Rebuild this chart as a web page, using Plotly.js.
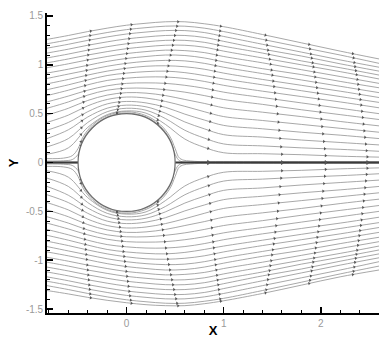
<!DOCTYPE html>
<html>
<head>
<meta charset="utf-8">
<script src="https://cdn.plot.ly/plotly-3.0.1.min.js"></script>
<style>html,body{margin:0;padding:0;background:#fff;}#chart{width:379px;height:338px;}</style>
</head>
<body>
<div id="chart"></div>
<script>
// ---- data ----
const xCols = [-0.82, -0.6, -0.4, -0.2, 0, 0.2, 0.4, 0.6, 0.8, 1.0, 1.4, 1.8, 2.2, 2.6];

const upperLines = [
  [1.26,1.30,1.34,1.375,1.405,1.425,1.44,1.44,1.42,1.39,1.31,1.225,1.14,1.06],
  [1.215,1.255,1.295,1.33,1.36,1.38,1.395,1.395,1.375,1.34,1.26,1.18,1.10,1.015],
  [1.17,1.21,1.25,1.285,1.315,1.335,1.35,1.35,1.33,1.29,1.21,1.13,1.05,0.975],
  [1.12,1.16,1.20,1.235,1.265,1.285,1.30,1.30,1.28,1.24,1.16,1.09,1.01,0.935],
  [1.07,1.11,1.15,1.185,1.215,1.235,1.25,1.25,1.23,1.19,1.12,1.04,0.97,0.895],
  [1.02,1.06,1.10,1.135,1.165,1.185,1.20,1.20,1.18,1.14,1.07,1.00,0.93,0.855],
  [0.97,1.01,1.05,1.085,1.115,1.135,1.15,1.145,1.125,1.085,1.02,0.95,0.88,0.81],
  [0.915,0.955,0.995,1.035,1.065,1.085,1.10,1.095,1.07,1.03,0.96,0.90,0.83,0.765],
  [0.86,0.905,0.945,0.985,1.015,1.035,1.045,1.04,1.015,0.975,0.91,0.845,0.78,0.715],
  [0.805,0.85,0.895,0.935,0.965,0.985,0.99,0.98,0.955,0.915,0.85,0.79,0.73,0.665],
  [0.745,0.795,0.845,0.89,0.915,0.93,0.935,0.92,0.89,0.855,0.795,0.735,0.675,0.615],
  [0.685,0.74,0.795,0.84,0.863,0.875,0.875,0.86,0.83,0.79,0.73,0.675,0.62,0.56],
  [0.62,0.68,0.74,0.785,0.81,0.815,0.81,0.79,0.76,0.72,0.665,0.61,0.555,0.50],
  [0.555,0.62,0.69,0.74,0.76,0.76,0.745,0.72,0.685,0.645,0.595,0.54,0.49,0.44],
  [0.485,0.555,0.635,0.69,0.715,0.71,0.685,0.645,0.605,0.56,0.515,0.47,0.42,0.375],
  [0.41,0.485,0.58,0.645,0.67,0.66,0.625,0.575,0.52,0.47,0.43,0.39,0.35,0.31],
  [0.33,0.41,0.52,0.60,0.625,0.61,0.565,0.495,0.435,0.38,0.345,0.31,0.28,0.245],
  [0.245,0.335,0.466,0.556,0.587,0.57,0.505,0.415,0.345,0.285,0.26,0.23,0.205,0.18],
  [0.16,0.245,0.41,0.52,0.555,0.535,0.45,0.33,0.25,0.19,0.17,0.15,0.135,0.115],
  [0.085,0.15,0.36,0.49,0.528,0.505,0.39,0.24,0.155,0.10,0.09,0.08,0.065,0.055]
];

const lowerLines = [
  [-1.31,-1.345,-1.38,-1.41,-1.435,-1.455,-1.465,-1.465,-1.445,-1.415,-1.34,-1.255,-1.17,-1.10],
  [-1.26,-1.30,-1.34,-1.375,-1.405,-1.425,-1.44,-1.44,-1.42,-1.39,-1.31,-1.225,-1.14,-1.06],
  [-1.215,-1.255,-1.295,-1.33,-1.36,-1.38,-1.395,-1.395,-1.375,-1.34,-1.26,-1.18,-1.10,-1.015],
  [-1.17,-1.21,-1.25,-1.285,-1.315,-1.335,-1.35,-1.35,-1.33,-1.29,-1.21,-1.13,-1.05,-0.975],
  [-1.12,-1.16,-1.20,-1.235,-1.265,-1.285,-1.30,-1.30,-1.28,-1.24,-1.16,-1.09,-1.01,-0.935],
  [-1.07,-1.11,-1.15,-1.185,-1.215,-1.235,-1.25,-1.25,-1.23,-1.19,-1.12,-1.04,-0.97,-0.895],
  [-1.02,-1.06,-1.10,-1.135,-1.165,-1.185,-1.20,-1.20,-1.18,-1.14,-1.07,-1.00,-0.93,-0.855],
  [-0.97,-1.01,-1.05,-1.085,-1.115,-1.135,-1.15,-1.145,-1.125,-1.085,-1.02,-0.95,-0.88,-0.81],
  [-0.915,-0.955,-0.995,-1.035,-1.065,-1.085,-1.10,-1.095,-1.07,-1.03,-0.96,-0.90,-0.83,-0.765],
  [-0.86,-0.905,-0.945,-0.985,-1.015,-1.035,-1.045,-1.04,-1.015,-0.975,-0.91,-0.845,-0.78,-0.715],
  [-0.805,-0.85,-0.895,-0.935,-0.965,-0.985,-0.99,-0.98,-0.955,-0.915,-0.85,-0.79,-0.73,-0.665],
  [-0.745,-0.795,-0.845,-0.89,-0.915,-0.93,-0.935,-0.92,-0.89,-0.855,-0.795,-0.735,-0.675,-0.615],
  [-0.685,-0.74,-0.795,-0.84,-0.863,-0.875,-0.875,-0.86,-0.83,-0.79,-0.73,-0.675,-0.62,-0.56],
  [-0.62,-0.68,-0.74,-0.785,-0.81,-0.815,-0.81,-0.79,-0.76,-0.72,-0.665,-0.61,-0.555,-0.50],
  [-0.555,-0.62,-0.69,-0.74,-0.76,-0.76,-0.745,-0.72,-0.685,-0.645,-0.595,-0.54,-0.49,-0.44],
  [-0.485,-0.555,-0.635,-0.69,-0.715,-0.71,-0.685,-0.645,-0.605,-0.56,-0.515,-0.47,-0.42,-0.375],
  [-0.41,-0.485,-0.58,-0.645,-0.67,-0.66,-0.625,-0.575,-0.52,-0.47,-0.43,-0.39,-0.35,-0.31],
  [-0.33,-0.41,-0.52,-0.60,-0.625,-0.61,-0.565,-0.495,-0.435,-0.38,-0.345,-0.31,-0.28,-0.245],
  [-0.245,-0.335,-0.466,-0.556,-0.587,-0.57,-0.505,-0.415,-0.345,-0.285,-0.26,-0.23,-0.205,-0.18],
  [-0.16,-0.245,-0.41,-0.52,-0.555,-0.535,-0.45,-0.33,-0.25,-0.19,-0.17,-0.15,-0.135,-0.115],
  [-0.085,-0.15,-0.36,-0.49,-0.528,-0.505,-0.39,-0.24,-0.155,-0.10,-0.09,-0.08,-0.065,-0.055]
];

// streamlines that hug the cylinder and join the wake line
const hugX = [-0.82,-0.65,-0.56,-0.5,-0.45,-0.35,-0.2,0,0.2,0.35,0.45,0.5,0.55,0.7,1.0,1.6,2.6];
const hugLines = [
  [0.04,0.045,0.07,0.143,0.26,0.385,0.48,0.52,0.48,0.385,0.26,0.143,0.04,0.012,0.01,0.009,0.008],
  [0.015,0.018,0.03,0.084,0.233,0.367,0.466,0.507,0.466,0.367,0.233,0.084,0.015,0.005,0.004,0.004,0.004],
  [-0.015,-0.018,-0.03,-0.084,-0.233,-0.367,-0.466,-0.507,-0.466,-0.367,-0.233,-0.084,-0.015,-0.005,-0.004,-0.004,-0.004],
  [-0.04,-0.045,-0.07,-0.143,-0.26,-0.385,-0.48,-0.52,-0.48,-0.385,-0.26,-0.143,-0.04,-0.012,-0.01,-0.009,-0.008]
];

// stagnation line and wake line on the axis
const axisLineX = [-0.82, -0.5, null, 0.5, 2.6];
const axisLineY = [0, 0, null, 0, 0];

const cylinderCenter = [0, 0];
const cylinderRadius = 0.5;

// arrow columns: x of each arrow on the outermost line and on the innermost line
const arrowXOuter = [-0.37, 0.05, 0.53, 0.97, 1.43, 1.88, 2.33];
const arrowXInner = [-0.47, -0.1, 0.32, 0.84, 1.6, 2.05, 2.48];

const xTickVals = [0, 1, 2];
const xTickText = ['0', '1', '2'];
const yTickVals = [-1.5, -1, -0.5, 0, 0.5, 1, 1.5];
const yTickText = ['-1.5', '-1', '-0.5', '0', '0.5', '1', '1.5'];
const xRange = [-0.82, 2.6];
const yRange = [-1.54, 1.53];

// ---- build traces ----
const lineColor = '#929292';
const traces = [];
const allLines = [];
upperLines.forEach((ys, k) => allLines.push({x: xCols, y: ys, f: k / (upperLines.length - 1)}));
lowerLines.forEach((ys, k) => allLines.push({x: xCols, y: ys, f: k / (lowerLines.length - 1)}));
hugLines.forEach(ys => allLines.push({x: hugX, y: ys, f: 1}));

allLines.forEach(l => {
  traces.push({
    type: 'scatter', mode: 'lines', x: l.x, y: l.y,
    line: {color: lineColor, width: 0.8, shape: 'spline', smoothing: 1},
    hoverinfo: 'skip', showlegend: false
  });
});

traces.push({
  type: 'scatter', mode: 'lines', x: axisLineX, y: axisLineY,
  line: {color: '#3a3a3a', width: 2.2}, hoverinfo: 'skip', showlegend: false
});

// arrows: placed on each streamline, oriented along it
const W = 379, H = 338, mL = 47, mR = 0, mT = 13, mB = 25;
const sx = (W - mL - mR) / (xRange[1] - xRange[0]);
const sy = (H - mT - mB) / (yRange[1] - yRange[0]);
const ax = [], ay = [], aang = [];
allLines.forEach(l => {
  arrowXOuter.forEach((xo, j) => {
    const px = xo + l.f * (arrowXInner[j] - xo);
    for (let i = 0; i < l.x.length - 1; i++) {
      if (px >= l.x[i] && px <= l.x[i + 1]) {
        const t = (px - l.x[i]) / (l.x[i + 1] - l.x[i]);
        const yv = l.y[i] + t * (l.y[i + 1] - l.y[i]);
        const slope = (l.y[i + 1] - l.y[i]) / (l.x[i + 1] - l.x[i]);
        ax.push(px); ay.push(yv);
        aang.push(-Math.atan(slope * sy / sx) * 180 / Math.PI);
        break;
      }
    }
  });
});
traces.push({
  type: 'scatter', mode: 'markers', x: ax, y: ay,
  marker: {symbol: 'triangle-right', size: 3, color: '#555', angle: aang, line: {width: 0}},
  hoverinfo: 'skip', showlegend: false
});

const tickFont = {family: 'Liberation Sans, Arial, sans-serif', size: 10, color: '#9a9a9a'};
const layout = {
  width: W, height: H,
  margin: {l: mL, r: mR, t: mT, b: mB, pad: 0},
  paper_bgcolor: '#fff', plot_bgcolor: '#fff',
  showlegend: false,
  shapes: [{
    type: 'circle', xref: 'x', yref: 'y',
    x0: cylinderCenter[0] - cylinderRadius, x1: cylinderCenter[0] + cylinderRadius,
    y0: cylinderCenter[1] - cylinderRadius, y1: cylinderCenter[1] + cylinderRadius,
    line: {color: '#6a6a6a', width: 1.2}, fillcolor: '#fff', layer: 'above'
  }],
  xaxis: {
    range: xRange, tickvals: xTickVals, ticktext: xTickText,
    ticks: 'inside', ticklen: 6, tickwidth: 1.5, tickcolor: '#000',
    showline: true, linecolor: '#000', linewidth: 1.8,
    showgrid: false, zeroline: false, tickfont: tickFont,
    minor: {ticks: 'inside', ticklen: 3, tickwidth: 1, tickcolor: '#000', dtick: 0.2, tick0: 0, showgrid: false},
    title: {text: '<b>X</b>', font: {family: 'Liberation Sans, Arial, sans-serif', size: 13, color: '#000'}, standoff: 4}
  },
  yaxis: {
    range: yRange, tickvals: yTickVals, ticktext: yTickText,
    ticks: 'inside', ticklen: 6, tickwidth: 1.5, tickcolor: '#000',
    showline: true, linecolor: '#000', linewidth: 1.8,
    showgrid: false, zeroline: false, tickfont: tickFont,
    minor: {ticks: 'inside', ticklen: 3, tickwidth: 1, tickcolor: '#000', dtick: 0.1, tick0: 0, showgrid: false},
    title: {text: '<b>Y</b>', font: {family: 'Liberation Sans, Arial, sans-serif', size: 13, color: '#000'}, standoff: 4}
  }
};

Plotly.newPlot('chart', traces, layout, {staticPlot: true, displayModeBar: false});
</script>
</body>
</html>
